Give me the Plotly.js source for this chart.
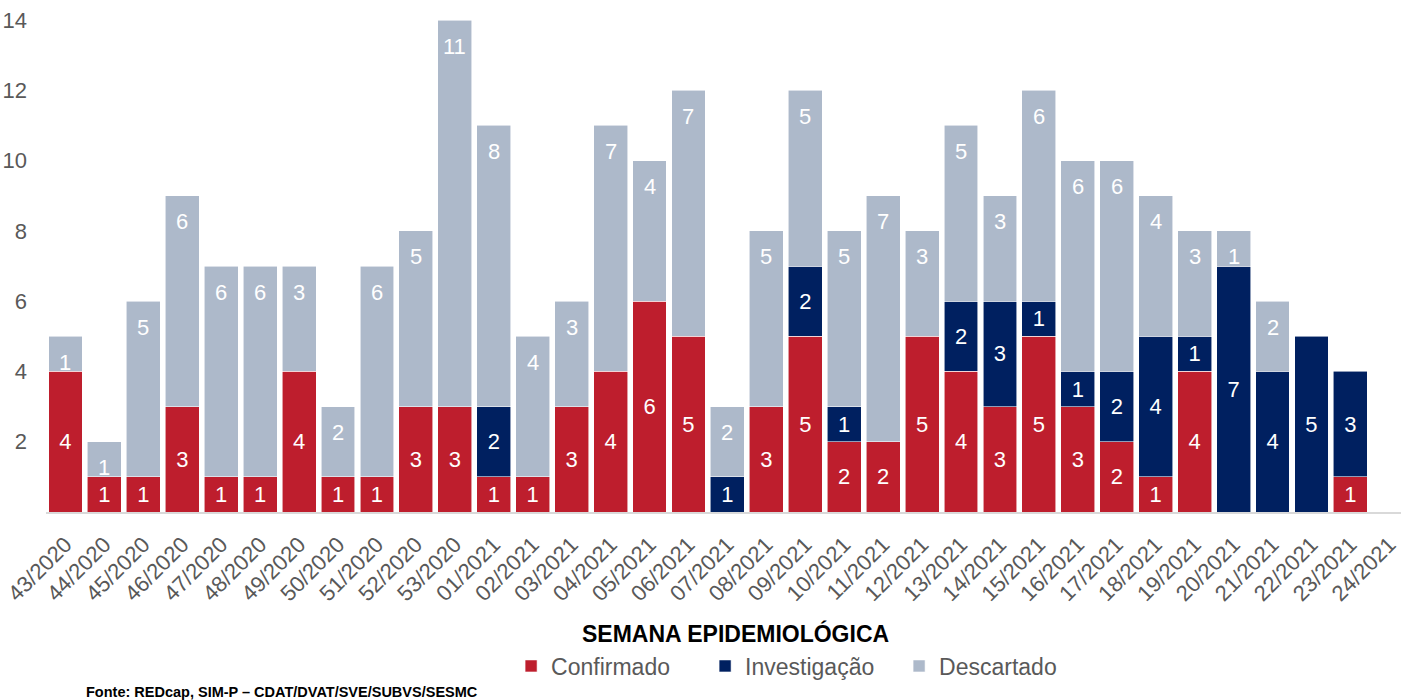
<!DOCTYPE html>
<html>
<head>
<meta charset="utf-8">
<script src="https://cdn.plot.ly/plotly-3.0.1.min.js"></script>
<style>html,body{margin:0;padding:0;background:#fff;}#chart{width:1401px;height:700px;}</style>
</head>
<body>
<div id="chart"></div>
<script>
const semanas = ["43/2020","44/2020","45/2020","46/2020","47/2020","48/2020","49/2020","50/2020","51/2020","52/2020","53/2020",
  "01/2021","02/2021","03/2021","04/2021","05/2021","06/2021","07/2021","08/2021","09/2021","10/2021","11/2021","12/2021",
  "13/2021","14/2021","15/2021","16/2021","17/2021","18/2021","19/2021","20/2021","21/2021","22/2021","23/2021","24/2021"];
const confirmado   = [4,1,1,3,1,1,4,1,1,3,3, 1,1,3,4,6,5,null,3,5,2,2,5, 4,3,5,3,2,1,4,null,null,null,1,null];
const investigacao = [null,null,null,null,null,null,null,null,null,null,null, 2,null,null,null,null,null,1,null,2,1,null,null, 2,3,1,1,2,4,1,7,4,5,3,null];
const descartado   = [1,1,5,6,6,6,3,2,6,5,11, 8,4,3,7,4,7,2,5,5,5,7,3, 5,3,6,6,6,4,3,1,2,null,null,null];
const yTicks = [2,4,6,8,10,12,14];

const FONT = "Liberation Sans, Arial, sans-serif";
const GRAY = "#595959";
const line = {color: "rgba(255,255,255,0.7)", width: 0.8};

const traces = [
  {type:"bar", name:"Confirmado", x:semanas, y:confirmado, marker:{color:"#BE1E2D", line:line},
   text:confirmado.map(v=>v==null?"":String(v)), textposition:"inside", insidetextanchor:"middle",
   textfont:{color:"#fff", size:22, family:FONT}, constraintext:"none", hoverinfo:"x+y+name"},
  {type:"bar", name:"Investigação", x:semanas, y:investigacao, marker:{color:"#002060", line:line},
   text:investigacao.map(v=>v==null?"":String(v)), textposition:"inside", insidetextanchor:"middle",
   textfont:{color:"#fff", size:22, family:FONT}, constraintext:"none", hoverinfo:"x+y+name"},
  {type:"bar", name:"Descartado", x:semanas, y:descartado, marker:{color:"#ADB9CA", line:line},
   textposition:"none", hoverinfo:"x+y+name"}
];

// Descartado labels sit near the top of each segment
const annotations = [];
semanas.forEach((s,i)=>{
  if (descartado[i] == null) return;
  const top = (confirmado[i]||0) + (investigacao[i]||0) + descartado[i];
  annotations.push({x:s, y:top, xref:"x", yref:"y", text:String(descartado[i]), showarrow:false,
    yshift:-26, font:{color:"#fff", size:22, family:FONT}});
});
annotations.push({xref:"paper", yref:"paper", x:0.509, y:-0.246, xanchor:"center", yanchor:"middle",
  text:"<b>SEMANA EPIDEMIOLÓGICA</b>", showarrow:false, font:{size:23, color:"#000", family:FONT}});
annotations.push({xref:"paper", yref:"paper", x:0.0288, y:-0.3476, xanchor:"left", yanchor:"top",
  text:"<b>Fonte: REDcap, SIM-P – CDAT/DVAT/SVE/SUBVS/SESMC</b>", showarrow:false, borderpad:0,
  font:{size:14.5, color:"#000", family:FONT}});

const layout = {
  width:1401, height:700,
  margin:{l:46, r:0, t:20, b:188},
  paper_bgcolor:"#fff", plot_bgcolor:"#fff",
  barmode:"stack", bargap:0.13,
  font:{family:FONT, color:GRAY},
  showlegend:true,
  legend:{orientation:"h", x:0.558, xanchor:"center", y:-0.313, yanchor:"middle",
    entrywidth:149, entrywidthmode:"pixels",
    font:{size:23, color:GRAY, family:FONT}, traceorder:"normal"},
  xaxis:{type:"category", categoryorder:"array", categoryarray:semanas, range:[-0.5, 34.3],
    tickmode:"linear", tick0:0, dtick:1, tickangle:-45, tickfont:{size:22, color:GRAY, family:FONT},
    ticklabelstandoff:9,
    showline:true, linecolor:"#D9D9D9", linewidth:2, showgrid:false, zeroline:false, ticks:"", fixedrange:true},
  yaxis:{range:[0,14], tickmode:"array", tickvals:yTicks, showgrid:false, zeroline:false, showline:false,
    tickfont:{size:22, color:GRAY, family:FONT}, ticks:"", ticklabelstandoff:18},
  annotations:annotations
};

Plotly.newPlot("chart", traces, layout, {displayModeBar:false, staticPlot:true});
</script>
</body>
</html>
